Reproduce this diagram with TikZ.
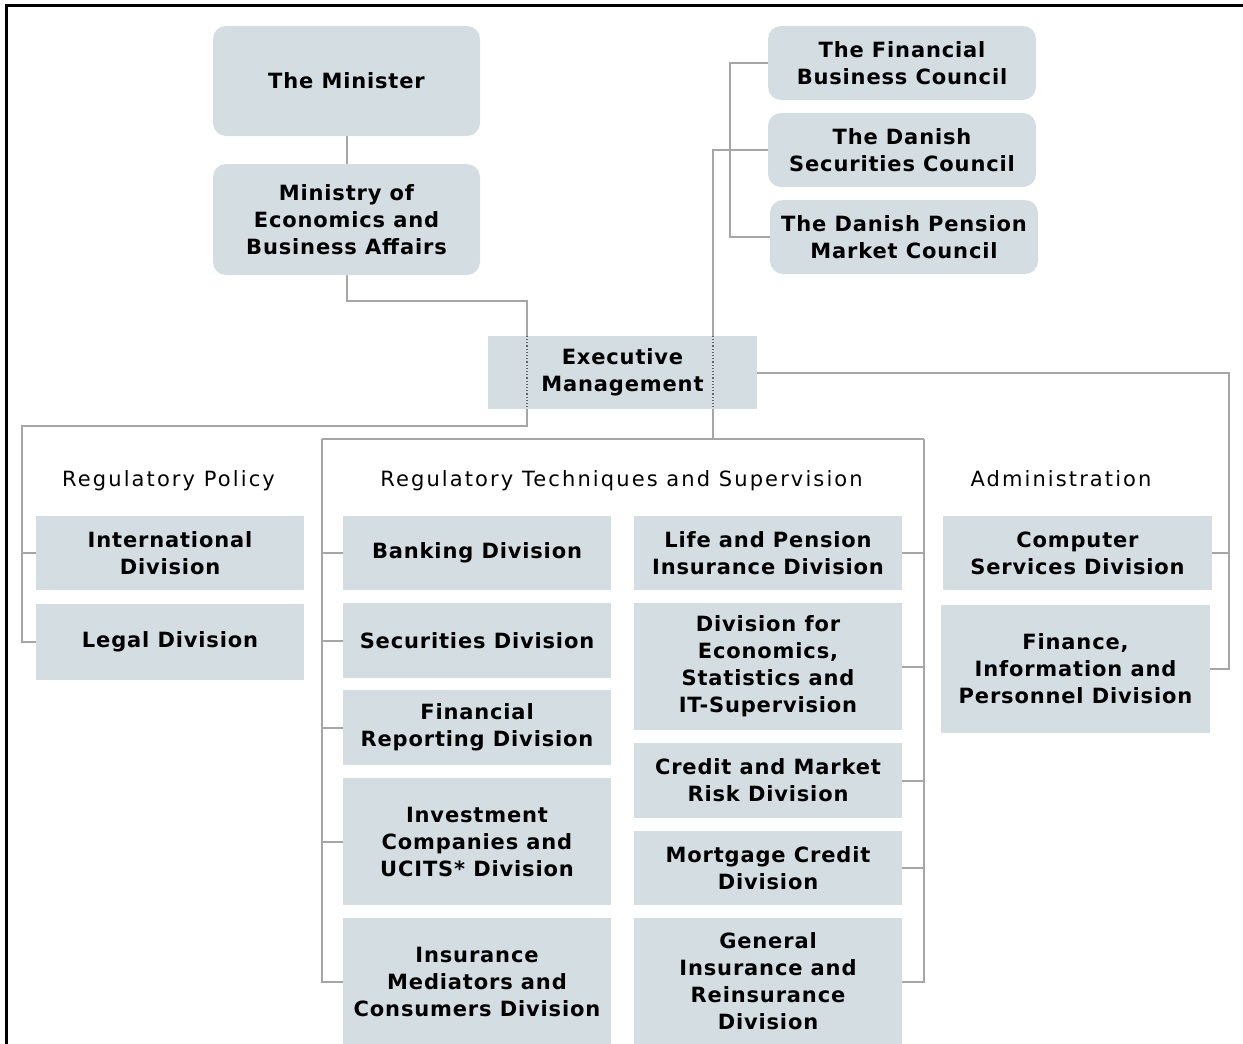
\documentclass[tikz,border=0pt]{standalone}
\usepackage{fontspec}
\setmainfont{DejaVu Sans}
\newfontfamily\headfont[LetterSpace=10]{DejaVu Sans}
\newfontfamily\unitfont[LetterSpace=4]{DejaVu Sans}
\usetikzlibrary{backgrounds}
\definecolor{unitfill}{HTML}{D4DEE2}
\definecolor{linkgray}{HTML}{A6A6A6}
\begin{document}
\begin{tikzpicture}[x=1pt,y=-1pt,
	unit/.style={fill=unitfill, inner sep=0pt, minimum width=268pt, minimum height=74pt, align=center, font=\fontsize{21}{27}\selectfont\unitfont\bfseries},
	council/.style={unit, rounded corners=13pt},
	head/.style={font=\fontsize{21}{27}\selectfont\headfont, text height=16pt, text depth=5pt},
	link/.style={draw=linkgray, line width=2pt},
	hidden/.style={draw=black!60, line width=1.2pt, dotted}]
	\useasboundingbox (0,0) rectangle (1243,1044);
	\draw[line width=3pt] (6,1044) -- (6,5) -- (1243,5);
	\node[council, minimum width=267pt, minimum height=110pt] (minister) at (346.5,81) {The Minister};
	\node[council, minimum width=267pt, minimum height=111pt] (ministry) at (346.5,219.5) {Ministry of\\Economics and\\Business Affairs};
	\node[council] (finbc) at (902,63) {The Financial\\Business Council};
	\node[council] (secbc) at (902,150) {The Danish\\Securities Council};
	\node[council] (penmc) at (904,237) {The Danish Pension\\Market Council};
	\node[unit, minimum width=269pt, minimum height=73pt] (exec) at (622.5,372.5) {Executive\\Management};
	\node[head] (rphead) at (168.5,481) {Regulatory Policy};
	\node[head] (rtshead) at (621.5,481) {Regulatory Techniques and Supervision};
	\node[head] (admhead) at (1061,481) {Administration};
	\node[unit] (intl) at (170,553) {International\\Division};
	\node[unit, minimum height=76pt] (legal) at (170,642) {Legal Division};
	\node[unit] (bank) at (477,553) {Banking Division};
	\node[unit, minimum height=75pt] (secdiv) at (477,640.5) {Securities Division};
	\node[unit, minimum height=75pt] (finrep) at (477,727.5) {Financial\\Reporting Division};
	\node[unit, minimum height=127pt] (invest) at (477,841.5) {Investment\\Companies and\\UCITS* Division};
	\node[unit, minimum height=127pt] (insmed) at (477,981.5) {Insurance\\Mediators and\\Consumers Division};
	\node[unit] (life) at (768,553) {Life and Pension\\Insurance Division};
	\node[unit, minimum height=127pt] (econ) at (768,666.5) {Division for\\Economics,\\Statistics and\\IT-Supervision};
	\node[unit, minimum height=75pt] (credit) at (768,780.5) {Credit and Market\\Risk Division};
	\node[unit] (mortg) at (768,868) {Mortgage Credit\\Division};
	\node[unit, minimum height=127pt] (geninsr) at (768,981.5) {General\\Insurance and\\Reinsurance\\Division};
	\node[unit, minimum width=269pt] (comp) at (1077.5,553) {Computer\\Services Division};
	\node[unit, minimum width=269pt, minimum height=128pt] (fipd) at (1075.5,669) {Finance,\\Information and\\Personnel Division};
	\coordinate (mbus) at (527,426);
	\coordinate (rpbus) at (22,426);
	\coordinate (cbus) at (730,237);
	\coordinate (ebus) at (713,439);
	\coordinate (rtsleft) at (322,439);
	\coordinate (rtsright) at (924,439);
	\coordinate (admbus) at (1229,372.5);
	\begin{scope}[on background layer]
	\draw[link] (minister) -- (ministry);
	\draw[link] (ministry.south) |- (527,301) -- (mbus) -- (rpbus) |- (legal.west);
	\draw[link] (intl.west) -- (intl.west -| rpbus);
	\draw[link] (finbc.west) -| (cbus) -- (penmc.west);
	\draw[link] (secbc.west) -| (ebus);
	\draw[link] (rtsleft) -- (rtsright);
	\draw[link] (rtsleft) |- (insmed.west);
	\draw[link] (rtsright) |- (geninsr.east);
	\foreach \u in {bank,secdiv,finrep,invest}
		\draw[link] (\u.west) -- (\u.west -| rtsleft);
	\foreach \u in {life,econ,credit,mortg}
		\draw[link] (\u.east) -- (\u.east -| rtsright);
	\draw[link] (exec.east) -- (admbus) |- (fipd.east);
	\draw[link] (comp.east) -- (comp.east -| admbus);
	\end{scope}
	\draw[hidden] (exec.north -| mbus) -- (exec.south -| mbus);
	\draw[hidden] (exec.north -| ebus) -- (exec.south -| ebus);
\end{tikzpicture}
\end{document}
